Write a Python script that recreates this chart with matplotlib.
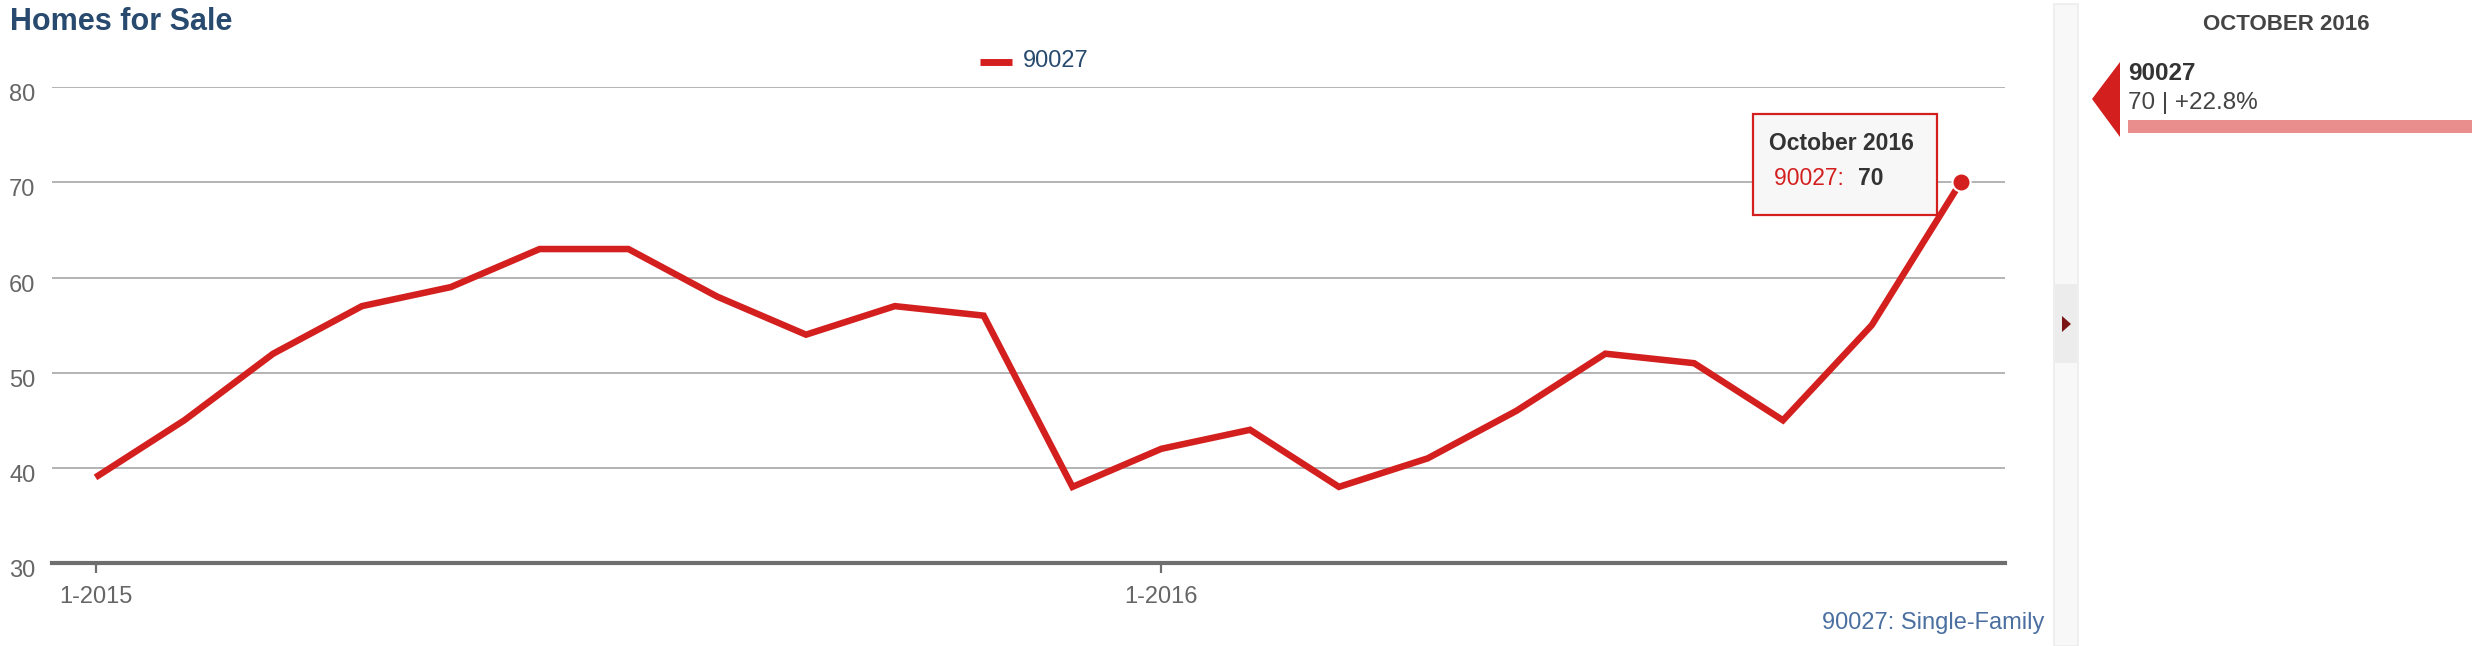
import numpy as np
import matplotlib
matplotlib.use("Agg")
import matplotlib.pyplot as plt
from matplotlib.patches import Rectangle, Polygon
from matplotlib.transforms import ScaledTranslation

plt.rcParams["font.family"] = ["Liberation Sans", "DejaVu Sans"]

# ---------------------------------------------------------------------------
# Data: monthly homes for sale, zip 90027, Jan 2015 .. Oct 2016
# ---------------------------------------------------------------------------
months = ["2015-01", "2015-02", "2015-03", "2015-04", "2015-05", "2015-06",
          "2015-07", "2015-08", "2015-09", "2015-10", "2015-11", "2015-12",
          "2016-01", "2016-02", "2016-03", "2016-04", "2016-05", "2016-06",
          "2016-07", "2016-08", "2016-09", "2016-10"]
homes_for_sale = [39, 45, 52, 57, 59, 63, 63, 58, 54, 57, 56, 38,
                  42, 44, 38, 41, 46, 52, 51, 45, 55, 70]
series_name = "90027"
x_tick_labels = ["1-2015", "1-2016"]
y_ticks = [30, 40, 50, 60, 70, 80]
last_label = "October 2016"

RED = "#d41f1f"
NAVY = "#284a6e"
GRAY_TXT = "#666666"

W, H = 2486, 646
fig = plt.figure(figsize=(W / 100, H / 100), dpi=100)


def fx(px):
    return px / W


def fy(py):
    return 1 - py / H


# main plot area (pixel bounds)
left, right, top, bottom = 52, 2005, 87.3, 563
ax = fig.add_axes([fx(left), fy(bottom), fx(right - left), fy(top) - fy(bottom)])

x = np.arange(len(months))
ax.plot(x, homes_for_sale, color=RED, lw=4.7, solid_joinstyle="miter",
        solid_capstyle="butt", zorder=3)
ax.plot(x[-1], homes_for_sale[-1], "o", color=RED, ms=13, mec="white",
        mew=1.5, zorder=4)

ax.set_xlim(-0.49, 21.5)
ax.set_ylim(30, 80)
ax.set_yticks(y_ticks)
ax.set_yticklabels([str(v) for v in y_ticks])
jan_idx = [i for i, m in enumerate(months) if m.endswith("-01")]
ax.set_xticks(jan_idx)
ax.set_xticklabels(x_tick_labels)

for s in ["top", "right", "left"]:
    ax.spines[s].set_visible(False)
ax.spines["bottom"].set_color("#6e6e6e")
ax.spines["bottom"].set_linewidth(3)
ax.spines["bottom"].set_zorder(5)

ax.grid(axis="y", color="#b3b3b3", lw=1.4)
ax.set_axisbelow(True)
ax.tick_params(axis="y", length=0, pad=12, labelsize=17, labelcolor=GRAY_TXT)
ax.tick_params(axis="x", length=7.5, width=1.6, color="#6e6e6e", pad=9,
               labelsize=17, labelcolor=GRAY_TXT)
for lbl in ax.get_yticklabels():
    lbl.set_transform(lbl.get_transform()
                      + ScaledTranslation(0, -0.055, fig.dpi_scale_trans))

# title + legend + source note
fig.text(fx(10), fy(22), "Homes for Sale", fontsize=22, fontweight="bold",
         color=NAVY, ha="left", va="center")
fig.add_artist(plt.Line2D([fx(980), fx(1012)], [fy(61.5), fy(61.5)],
                          color=RED, lw=5, solid_capstyle="butt"))
fig.text(fx(1023), fy(61), series_name, fontsize=17, color=NAVY,
         ha="left", va="center")
fig.text(fx(2044), fy(623), f"{series_name}: Single-Family", fontsize=17,
         color="#4a6fa0", ha="right", va="center")

# tooltip on the last point
fig.add_artist(Rectangle((fx(1753), fy(215)), fx(184), fy(114) - fy(215),
                         transform=fig.transFigure, facecolor="#f7f7f7",
                         edgecolor=RED, lw=1.6, zorder=6))
fig.text(fx(1769), fy(143), last_label, fontsize=16.5, fontweight="bold",
         color="#333333", ha="left", va="center", zorder=7)
t1 = fig.text(fx(1774), fy(178), f"{series_name}: ", fontsize=16.5,
              color=RED, ha="left", va="center", zorder=7)
fig.text(fx(1858), fy(178), str(homes_for_sale[-1]), fontsize=16.5,
         fontweight="bold", color="#333333", ha="left", va="center", zorder=7)

# right-hand panel
fig.add_artist(Rectangle((fx(2054), 0), fx(24), fy(4), transform=fig.transFigure,
                         facecolor="#f8f8f8", edgecolor="#ececec", lw=1.2))
fig.add_artist(Rectangle((fx(2055), fy(363)), fx(22), fy(284) - fy(363),
                         transform=fig.transFigure, facecolor="#ececec",
                         edgecolor="none"))
fig.add_artist(Polygon([(fx(2062), fy(316)), (fx(2071), fy(324)),
                        (fx(2062), fy(332))], closed=True,
                       transform=fig.transFigure, facecolor="#7a1515",
                       edgecolor="none"))

yoy = (homes_for_sale[-1] / homes_for_sale[-13] - 1) * 100
fig.text(fx(2286), fy(25), last_label.upper(), fontsize=16, fontweight="bold",
         color="#444444", ha="center", va="center")
fig.add_artist(Polygon([(fx(2092), fy(99)), (fx(2120), fy(62)),
                        (fx(2120), fy(137))], closed=True,
                       transform=fig.transFigure, facecolor=RED,
                       edgecolor="none"))
fig.text(fx(2128), fy(74), series_name, fontsize=17.5, fontweight="bold",
         color="#333333", ha="left", va="center")
fig.text(fx(2128), fy(103), f"{homes_for_sale[-1]} | {yoy:+.1f}%",
         fontsize=17.5, color="#444444", ha="left", va="center")
fig.add_artist(Rectangle((fx(2128), fy(133)), fx(344), fy(120) - fy(133),
                         transform=fig.transFigure, facecolor="#e98d8d",
                         edgecolor="none"))

fig.savefig("out.png", dpi=100)
